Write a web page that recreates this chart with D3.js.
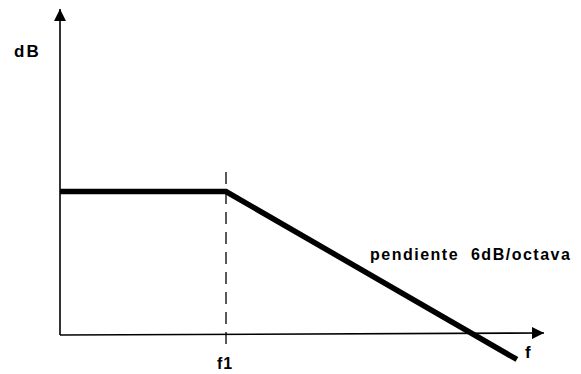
<!DOCTYPE html>
<html>
<head>
<meta charset="utf-8">
<script src="https://cdn.jsdelivr.net/npm/d3@7"></script>
<style>
  body { margin: 0; background: #fff; }
  svg text { font-family: "Liberation Sans", Arial, sans-serif; font-weight: bold; fill: #000; }
</style>
</head>
<body>
<div class="d3-container"></div>
<script>
// frequency response (normalized units): flat up to f1, then falls 6dB/octave
const freqPoints = [0, 0.343, 0.944];
const levelPoints = [0.44, 0.44, -0.075];
const cutoffFreq = 0.343;
const labels = {x: "f", y: "dB", cutoff: "f1", slope: "pendiente  6dB/octava"};

const width = 581;
const height = 374;
const margin = {top: 9, bottom: 38, left: 60, right: 37};

const svg = d3.select(".d3-container")
  .append("svg")
  .attr("width", width)
  .attr("height", height);

// x goes from the y axis out to the arrow tip, y from the x axis up to the arrow tip
const x = d3.scaleLinear()
  .domain([0, 1])
  .range([margin.left, width - margin.right]);

const y = d3.scaleLinear()
  .domain([0, 1])
  .range([height - margin.bottom - 1, margin.top]);

// arrow heads for the axes
svg.append("defs").append("marker")
  .attr("id", "arrow")
  .attr("viewBox", "0 0 10 10")
  .attr("refX", 10)
  .attr("refY", 5)
  .attr("markerWidth", 17)
  .attr("markerHeight", 12)
  .attr("markerUnits", "userSpaceOnUse")
  .attr("orient", "auto")
  .append("path")
  .attr("d", "M0,0L10,5L0,10Z")
  .attr("fill", "#000");

// x axis
svg.append("line")
  .attr("x1", x(0)).attr("y1", y(0))
  .attr("x2", x(1)).attr("y2", y(0) - 2)
  .attr("stroke", "#000")
  .attr("stroke-width", 1.6)
  .attr("marker-end", "url(#arrow)");

// y axis
svg.append("line")
  .attr("x1", x(0)).attr("y1", y(0))
  .attr("x2", x(0)).attr("y2", y(1))
  .attr("stroke", "#000")
  .attr("stroke-width", 1.6)
  .attr("marker-end", "url(#arrow)");

// dashed line at the cutoff frequency
svg.append("line")
  .attr("x1", x(cutoffFreq)).attr("y1", y(0.5))
  .attr("x2", x(cutoffFreq)).attr("y2", y(-0.035))
  .attr("stroke", "#000")
  .attr("stroke-width", 1.3)
  .attr("stroke-dasharray", "12,8");

// the response itself
const line = d3.line()
  .x((d, i) => x(freqPoints[i]))
  .y(d => y(d));

svg.append("path")
  .datum(levelPoints)
  .attr("d", line)
  .attr("fill", "none")
  .attr("stroke", "#000")
  .attr("stroke-width", 5.5);

// labels
svg.append("text")
  .attr("x", 14).attr("y", 57)
  .attr("font-size", 17)
  .attr("letter-spacing", 2)
  .text(labels.y);

svg.append("text")
  .attr("x", 525).attr("y", 358)
  .attr("font-size", 17)
  .text(labels.x);

svg.append("text")
  .attr("x", x(cutoffFreq) - 9).attr("y", 369)
  .attr("font-size", 16)
  .attr("letter-spacing", 1)
  .text(labels.cutoff);

svg.append("text")
  .attr("x", 370).attr("y", 260)
  .attr("font-size", 16)
  .attr("letter-spacing", 1.5)
  .style("white-space", "pre")
  .text(labels.slope);
</script>
</body>
</html>
